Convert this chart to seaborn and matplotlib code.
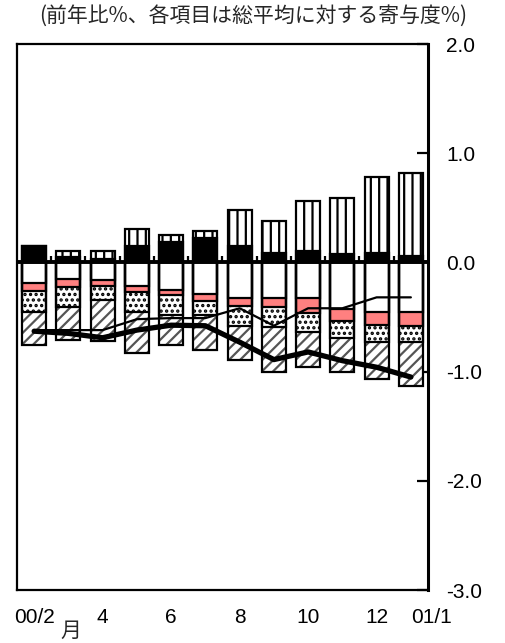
import numpy as np
import seaborn as sns
import matplotlib.pyplot as plt

# months Feb 2000 .. Jan 2001
months = ['00/2', '00/3', '00/4', '00/5', '00/6', '00/7', '00/8', '00/9',
          '00/10', '00/11', '00/12', '01/1']
tick_text = ['00/2', '', '4', '', '6', '', '8', '', '10', '', '12', '01/1']
ytick_vals = [-3.0, -2.0, -1.0, 0.0, 1.0, 2.0]
ytick_text = ['-3.0', '-2.0', '-1.0', '0.0', '1.0', '2.0']

# positive contributions (bottom -> top)
pos_black = [0.15, 0.05, 0.03, 0.15, 0.19, 0.22, 0.15, 0.09, 0.10, 0.08, 0.09, 0.06]
pos_stripe = [0.00, 0.05, 0.07, 0.16, 0.06, 0.07, 0.33, 0.29, 0.46, 0.51, 0.69, 0.76]
# negative contributions (top -> bottom)
neg_white = [-0.19, -0.15, -0.16, -0.22, -0.25, -0.29, -0.33, -0.33, -0.33, -0.43, -0.45, -0.45]
neg_pink = [-0.07, -0.075, -0.055, -0.05, -0.045, -0.06, -0.07, -0.08, -0.13, -0.11, -0.12, -0.13]
neg_dot = [-0.19, -0.185, -0.125, -0.18, -0.185, -0.13, -0.18, -0.18, -0.18, -0.15, -0.16, -0.15]
neg_diag = [-0.31, -0.30, -0.38, -0.38, -0.28, -0.32, -0.31, -0.41, -0.315, -0.31, -0.34, -0.40]

# lines
line_thick = [-0.63, -0.65, -0.69, -0.62, -0.575, -0.58, -0.73, -0.89, -0.82, -0.90, -0.96, -1.05]
line_thin = [-0.62, -0.62, -0.62, -0.52, -0.51, -0.51, -0.42, -0.58, -0.42, -0.42, -0.32, -0.32]

sns.set_theme(style='white')
plt.rcParams['font.family'] = ['Liberation Sans', 'Noto Sans CJK JP', 'DejaVu Sans']
plt.rcParams['hatch.linewidth'] = 1.6

fig = plt.figure(figsize=(5.06, 6.43), dpi=100)
ax = fig.add_axes([17/506, 53/643, 411/506, 546/643])

# cumulative levels, drawn outermost first so inner ones cover them
cum_pos_black = np.array(pos_black)
cum_pos_top = cum_pos_black + np.array(pos_stripe)
cum_white = np.array(neg_white)
cum_pink = cum_white + np.array(neg_pink)
cum_dot = cum_pink + np.array(neg_dot)
cum_diag = cum_dot + np.array(neg_diag)

layers = [
    (cum_pos_top, 'white', 'black', '||'),
    (cum_pos_black, 'black', 'black', None),
    (cum_diag, 'white', '#555555', '///'),
    (cum_dot, 'white', 'black', '...'),
    (cum_pink, '#ff8080', '#ff8080', None),
    (cum_white, 'white', 'white', None),
]
for vals, fc, hc, hatch in layers:
    sns.barplot(x=months, y=vals, order=months, color=fc, saturation=1,
                width=0.7, errorbar=None, edgecolor=hc, linewidth=0,
                hatch=hatch, ax=ax)

# black outlines of every segment
for vals in [cum_pos_top, cum_pos_black, cum_diag, cum_dot, cum_pink, cum_white]:
    sns.barplot(x=months, y=vals, order=months, fill=False, color='black',
                width=0.7, errorbar=None, linewidth=1.6, ax=ax)

pos = np.arange(len(months))
sns.lineplot(x=pos, y=line_thin, color='black', linewidth=1.6, ax=ax)
sns.lineplot(x=pos, y=line_thick, color='black', linewidth=3.8, ax=ax)

# zero line with small ticks between months
ax.axhline(0, color='black', linewidth=2.8, zorder=4)
ax.vlines(pos[:-1] + 0.5, 0, 0.06, color='black', linewidth=1.6, zorder=4)

ax.set_xlim(-0.5, len(months) - 0.5)
ax.set_ylim(-3.0, 2.0)
ax.set_xlabel('')
ax.set_ylabel('')

for s in ax.spines.values():
    s.set_visible(True)
    s.set_color('black')
    s.set_linewidth(1.6)
ax.spines['right'].set_linewidth(2.2)

ax.set_xticks(pos)
ax.set_xticklabels(tick_text)
ax.tick_params(axis='x', length=0, labelsize=15, pad=13, colors='black')
ax.get_xticklabels()[-1].set_horizontalalignment('left')

ax.yaxis.tick_right()
ax.set_yticks(ytick_vals)
ax.set_yticklabels(ytick_text)
ax.tick_params(axis='y', direction='in', length=8, width=1.6, labelsize=15,
               pad=13, colors='black', right=True, left=False)

fig.text(0.5, 1 - 16/643, '(前年比%、各項目は総平均に対する寄与度%)',
         ha='center', va='center', fontsize=15,
         family=['Noto Sans CJK JP', 'DejaVu Sans'])
fig.text(71/506, 12/643, '月', ha='center', va='center', fontsize=15,
         family=['Noto Sans CJK JP', 'DejaVu Sans'])

fig.savefig('out.png', dpi=100)
